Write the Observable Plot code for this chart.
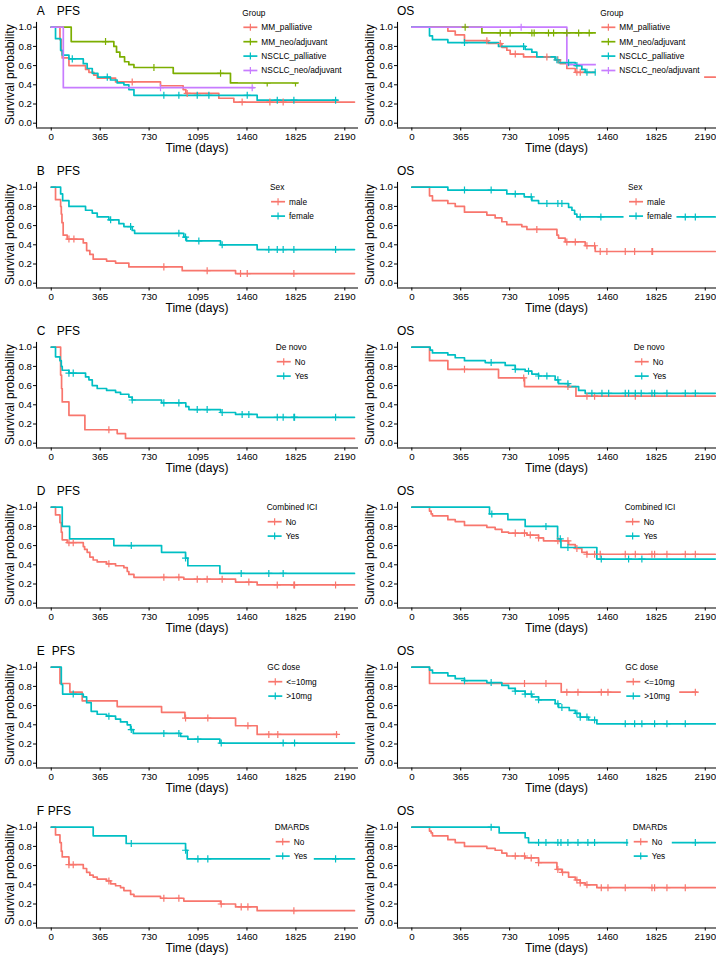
<!DOCTYPE html>
<html><head><meta charset="utf-8">
<script src="https://cdn.jsdelivr.net/npm/d3@7"></script>
<script src="https://cdn.jsdelivr.net/npm/@observablehq/plot@0.6"></script>
<style>
body{margin:0;background:#fff;}
#root{position:relative;width:716px;height:959px;overflow:hidden;background:#fff;}
#root svg{position:absolute;}
</style>
</head><body><div id="root"></div>
<script>
const FONT = '"Liberation Sans", Arial, Helvetica, sans-serif';
const xTicks = [0, 365, 730, 1095, 1460, 1825, 2190];
const yTicks = [0, 0.2, 0.4, 0.6, 0.8, 1.0];
const colors4 = ["#F8766D", "#7CAE00", "#00BFC4", "#C77CFF"];
const colors2 = ["#F8766D", "#00BFC4"];
const groupLabels = ["MM_palliative", "MM_neo/adjuvant", "NSCLC_palliative", "NSCLC_neo/adjuvant"];
const sexLabels = ["male", "female"];
const noYesLabels = ["No", "Yes"];
const gcLabels = ["<=10mg", ">10mg"];

// ---- A: Group ----
const aPfsMMpalT = [0, 65, 75, 82, 132, 256, 281, 318, 343, 480, 815, 984, 1004, 1250, 1362, 2262];
const aPfsMMpalS = [1, .87, .75, .68, .60, .56, .53, .50, .47, .43, .39, .35, .31, .26, .22, .22];
const aPfsMMpalC = [604, 1014, 1424, 1631, 1730];
const aPfsMMneoT = [0, 149, 467, 487, 512, 547, 579, 617, 910, 1337, 1835];
const aPfsMMneoS = [1, .85, .80, .74, .69, .64, .61, .58, .52, .42, .42];
const aPfsMMneoC = [405, 766, 1263, 1611, 1822];
const aPfsNSpalT = [0, 32, 70, 82, 132, 239, 268, 306, 348, 442, 492, 542, 579, 617, 1536, 2133];
const aPfsNSpalS = [1, .88, .76, .71, .67, .62, .57, .52, .48, .45, .42, .40, .35, .29, .24, .24];
const aPfsNSpalC = [157, 418, 840, 952, 1089, 1176, 1462, 1686, 1810, 2121];
const aPfsNSneoT = [0, 90, 1512];
const aPfsNSneoS = [1, .37, .37];
const aPfsNSneoC = [815, 1499];

const aOsMMpalT = [0, 269, 324, 393, 572, 672, 709, 734, 834, 1070, 1108, 1157, 1220, 1600, 2265];
const aOsMMpalS = [1, .96, .92, .86, .83, .79, .76, .72, .69, .66, .62, .57, .53, .48, .48];
const aOsMMpalC = [560, 660, 772, 1008, 1090, 1232, 1257];
const aOsMMneoT = [0, 523, 1374];
const aOsMMneoS = [1, .94, .94];
const aOsMMneoC = [398, 660, 734, 896, 913, 1020, 1058, 1157, 1245, 1324];
const aOsNSpalT = [0, 132, 154, 269, 647, 846, 896, 933, 1070, 1095, 1220, 1269, 1294, 1374];
const aOsNSpalS = [1, .91, .87, .84, .80, .77, .74, .69, .66, .63, .60, .56, .53, .53];
const aOsNSpalC = [393, 834, 1083, 1170, 1232, 1307, 1369];
const aOsNSneoT = [0, 1157, 1374];
const aOsNSneoS = [1, .61, .61];
const aOsNSneoC = [816];

// ---- B: Sex ----
const bPfsMaleT = [0, 32, 70, 75, 80, 89, 119, 239, 264, 288, 313, 413, 480, 579, 977, 1375, 2262];
const bPfsMaleS = [1, .87, .80, .72, .63, .50, .46, .42, .34, .30, .25, .23, .21, .17, .13, .10, .10];
const bPfsMaleC = [132, 169, 840, 1163, 1412, 1462, 1810];
const bPfsFemaleT = [0, 70, 85, 132, 256, 306, 343, 430, 505, 542, 604, 622, 989, 1009, 1263, 1536, 2262];
const bPfsFemaleS = [1, .93, .86, .80, .76, .73, .69, .66, .62, .59, .55, .52, .48, .44, .40, .35, .35];
const bPfsFemaleC = [443, 592, 952, 1002, 1101, 1275, 1623, 1686, 1730, 1810, 2121];

const bOsMaleT = [0, 132, 154, 269, 324, 393, 560, 622, 672, 709, 821, 859, 1083, 1095, 1145, 1294, 1369, 2265];
const bOsMaleS = [1, .91, .86, .83, .80, .74, .71, .68, .64, .61, .59, .56, .50, .47, .43, .39, .33, .33];
const bOsMaleC = [933, 1157, 1220, 1307, 1364, 1406, 1456, 1593, 1663, 1792, 1797];
const bOsFemaleT = [0, 269, 709, 839, 896, 946, 1170, 1195, 1215, 1232, 2265];
const bOsFemaleS = [1, .97, .93, .90, .86, .83, .79, .76, .72, .69, .69];
const bOsFemaleC = [393, 592, 772, 891, 1008, 1090, 1120, 1257, 1411, 2041, 2116];

// ---- C: De novo ----
const cPfsNoT = [0, 70, 77, 82, 132, 251, 492, 554, 2262];
const cPfsNoS = [1, .71, .57, .43, .29, .14, .10, .05, .05];
const cPfsNoC = [430];
const cPfsYesT = [0, 32, 65, 75, 82, 132, 256, 281, 306, 343, 413, 480, 517, 579, 604, 823, 1004, 1027, 1263, 1375, 1536, 2262];
const cPfsYesS = [1, .90, .86, .80, .76, .73, .69, .66, .60, .57, .55, .53, .51, .48, .45, .42, .38, .35, .32, .30, .27, .27];
const cPfsYesC = [132, 164, 604, 840, 952, 1089, 1163, 1275, 1424, 1474, 1686, 1730, 1810, 1815, 2121];

const cOsNoT = [0, 132, 269, 647, 841, 1225, 2265];
const cOsNoS = [1, .86, .77, .68, .59, .49, .49];
const cOsNoC = [393, 835, 1165, 1307, 1364, 1668];
const cOsYesT = [0, 137, 154, 269, 324, 393, 548, 697, 772, 846, 896, 946, 1070, 1095, 1170, 1245, 1294, 2265];
const cOsYesS = [1, .97, .94, .92, .89, .86, .84, .81, .77, .75, .72, .70, .66, .62, .59, .55, .52, .52];
const cOsYesC = [592, 772, 871, 946, 1008, 1090, 1165, 1344, 1419, 1469, 1593, 1618, 1668, 1712, 1792, 1812, 1904, 2041, 2116];

// ---- D: Combined ICI ----
const dPfsNoT = [0, 32, 65, 75, 82, 119, 239, 249, 268, 288, 313, 343, 413, 480, 542, 567, 579, 617, 989, 1375, 1536, 2262];
const dPfsNoS = [1, .92, .84, .74, .66, .63, .59, .56, .53, .48, .45, .43, .41, .39, .37, .33, .30, .27, .25, .22, .19, .19];
const dPfsNoC = [132, 164, 430, 840, 952, 1089, 1163, 1275, 1474, 1686, 1810, 1815, 2121];
const dPfsYesT = [0, 82, 137, 467, 823, 1002, 1019, 1258, 2262];
const dPfsYesS = [1, .80, .67, .60, .53, .47, .39, .31, .31];
const dPfsYesC = [597, 1002, 1417, 1623, 1730];

const dOsNoT = [0, 132, 144, 154, 269, 324, 393, 560, 622, 672, 722, 859, 946, 983, 1170, 1220, 1269, 1307, 2265];
const dOsNoS = [1, .96, .93, .91, .87, .85, .81, .79, .77, .74, .73, .71, .68, .65, .61, .57, .53, .51, .51];
const dOsNoC = [772, 841, 884, 946, 1090, 1165, 1232, 1307, 1364, 1406, 1593, 1668, 1792, 1812, 1904, 2041, 2116];
const dOsYesT = [0, 580, 717, 846, 1088, 1113, 1381, 2265];
const dOsYesS = [1, .93, .87, .80, .67, .58, .46, .46];
const dOsYesC = [597, 1001, 1108, 1165, 1414, 1618, 1717];

// ---- E: GC dose ----
const ePfsLowT = [0, 65, 139, 231, 492, 823, 997, 1375, 1536, 2133];
const ePfsLowS = [1, .83, .74, .65, .59, .53, .47, .39, .30, .30];
const ePfsLowC = [1002, 1168, 1467, 1623, 1690, 2128];
const ePfsHighT = [0, 75, 85, 239, 264, 298, 343, 413, 480, 517, 567, 592, 612, 965, 1019, 1258, 2262];
const ePfsHighS = [1, .82, .72, .69, .63, .54, .51, .49, .46, .43, .40, .35, .31, .28, .25, .21, .21];
const ePfsHighC = [164, 430, 597, 840, 952, 1094, 1268, 1730, 1815];

const eOsLowT = [0, 132, 1115, 2128];
const eOsLowS = [1, .83, .74, .74];
const eOsLowC = [841, 1001, 1157, 1240, 1414, 1464, 2116];
const eOsHighT = [0, 132, 154, 269, 324, 393, 560, 672, 722, 772, 846, 896, 946, 1070, 1095, 1175, 1220, 1257, 1319, 1381, 2265];
const eOsHighS = [1, .97, .94, .91, .88, .86, .84, .81, .78, .75, .72, .69, .66, .62, .58, .55, .52, .48, .45, .41, .41];
const eOsHighC = [393, 592, 772, 846, 891, 946, 1090, 1120, 1232, 1257, 1307, 1364, 1593, 1663, 1717, 1812, 1904, 2041];

// ---- F: DMARDs ----
const fPfsNoT = [0, 32, 65, 75, 82, 132, 239, 264, 288, 313, 343, 413, 443, 480, 517, 542, 592, 617, 815, 989, 1263, 1375, 1536, 2262];
const fPfsNoS = [1, .92, .84, .75, .69, .61, .57, .53, .50, .48, .46, .44, .41, .39, .37, .34, .30, .28, .26, .23, .20, .17, .13, .13];
const fPfsNoC = [132, 164, 430, 840, 952, 1268, 1417, 1467, 1810];
const fPfsYesT = [0, 313, 559, 1002, 1014, 2262];
const fPfsYesS = [1, .91, .83, .76, .67, .67];
const fPfsYesC = [597, 1002, 1094, 1168, 2121];

const fOsNoT = [0, 132, 144, 154, 269, 324, 393, 560, 622, 672, 709, 846, 946, 1083, 1120, 1170, 1220, 1257, 1294, 1381, 2265];
const fOsNoS = [1, .96, .94, .91, .87, .84, .80, .78, .76, .73, .70, .68, .63, .56, .53, .48, .45, .42, .40, .37, .37];
const fOsNoC = [772, 841, 891, 946, 1090, 1125, 1232, 1257, 1307, 1414, 1464, 1593, 1792, 1812, 1904, 2041];
const fOsYesT = [0, 652, 846, 871, 2265];
const fOsYesS = [1, .94, .89, .84, .84];
const fOsYesC = [592, 946, 1001, 1090, 1113, 1165, 1240, 1314, 1364, 1605, 2116];

const panels = [
  {row:0, col:0, letter:"A", kx:56.7, kind:"PFS", lt:"Group", labels:groupLabels, colors:colors4,
   curves:[[aPfsMMpalT,aPfsMMpalS,aPfsMMpalC],[aPfsMMneoT,aPfsMMneoS,aPfsMMneoC],[aPfsNSpalT,aPfsNSpalS,aPfsNSpalC],[aPfsNSneoT,aPfsNSneoS,aPfsNSneoC]]},
  {row:0, col:1, kind:"OS", lt:"Group", labels:groupLabels, colors:colors4,
   curves:[[aOsMMpalT,aOsMMpalS,aOsMMpalC],[aOsMMneoT,aOsMMneoS,aOsMMneoC],[aOsNSpalT,aOsNSpalS,aOsNSpalC],[aOsNSneoT,aOsNSneoS,aOsNSneoC]]},
  {row:1, col:0, letter:"B", kx:56.7, kind:"PFS", lt:"Sex", labels:sexLabels, colors:colors2,
   curves:[[bPfsMaleT,bPfsMaleS,bPfsMaleC],[bPfsFemaleT,bPfsFemaleS,bPfsFemaleC]]},
  {row:1, col:1, kind:"OS", lt:"Sex", labels:sexLabels, colors:colors2,
   curves:[[bOsMaleT,bOsMaleS,bOsMaleC],[bOsFemaleT,bOsFemaleS,bOsFemaleC]]},
  {row:2, col:0, letter:"C", kx:56.7, kind:"PFS", lt:"De novo", labels:noYesLabels, colors:colors2,
   curves:[[cPfsNoT,cPfsNoS,cPfsNoC],[cPfsYesT,cPfsYesS,cPfsYesC]]},
  {row:2, col:1, kind:"OS", lt:"De novo", labels:noYesLabels, colors:colors2,
   curves:[[cOsNoT,cOsNoS,cOsNoC],[cOsYesT,cOsYesS,cOsYesC]]},
  {row:3, col:0, letter:"D", kx:56.7, kind:"PFS", lt:"Combined ICI", labels:noYesLabels, colors:colors2,
   curves:[[dPfsNoT,dPfsNoS,dPfsNoC],[dPfsYesT,dPfsYesS,dPfsYesC]]},
  {row:3, col:1, kind:"OS", lt:"Combined ICI", labels:noYesLabels, colors:colors2,
   curves:[[dOsNoT,dOsNoS,dOsNoC],[dOsYesT,dOsYesS,dOsYesC]]},
  {row:4, col:0, letter:"E", kx:51.7, kind:"PFS", lt:"GC dose", labels:gcLabels, colors:colors2,
   curves:[[ePfsLowT,ePfsLowS,ePfsLowC],[ePfsHighT,ePfsHighS,ePfsHighC]]},
  {row:4, col:1, kind:"OS", lt:"GC dose", labels:gcLabels, colors:colors2,
   curves:[[eOsLowT,eOsLowS,eOsLowC],[eOsHighT,eOsHighS,eOsHighC]]},
  {row:5, col:0, letter:"F", kx:47.7, kind:"PFS", lt:"DMARDs", labels:noYesLabels, colors:colors2,
   curves:[[fPfsNoT,fPfsNoS,fPfsNoC],[fPfsYesT,fPfsYesS,fPfsYesC]]},
  {row:5, col:1, kind:"OS", lt:"DMARDs", labels:noYesLabels, colors:colors2,
   curves:[[fOsNoT,fOsNoS,fOsNoC],[fOsYesT,fOsYesS,fOsYesC]]}
];

function survAt(T, S, t) {
  let s = S[0];
  for (let i = 0; i < T.length; i++) { if (T[i] <= t) s = S[i]; else break; }
  return s;
}

const canvas = document.createElement("canvas");
const ctx = canvas.getContext("2d");

function drawLegend(svg, title, labels, colors) {
  const fs = 8.3;
  ctx.font = fs + 'px "Liberation Sans", Arial, sans-serif';
  const tw = ctx.measureText(title).width;
  const lw = Math.max(...labels.map(l => ctx.measureText(l).width));
  const keyOff = 1, keyW = 14, gap = 4;
  const cw = Math.max(tw, keyOff + keyW + gap + lw);
  const x0 = 292 - cw / 2;
  const n = labels.length;
  const span = 4 + 14.2 + 14.4 * (n - 1) + 7.2;
  const yt = 43.4 - span / 2 + 4;
  const g = svg.append("g").attr("font-family", FONT).attr("font-size", fs).attr("fill", "#000").attr("text-anchor", "start");
  g.append("rect").attr("x", x0 - 4.5).attr("y", yt - 4 - 4.5).attr("width", cw + 9).attr("height", span + 9).attr("fill", "#fff");
  g.append("text").attr("x", x0).attr("y", yt).attr("dy", "0.35em").text(title);
  labels.forEach((l, i) => {
    const y = yt + 14.2 + 14.4 * i;
    const kx = x0 + keyOff;
    g.append("line").attr("x1", kx).attr("x2", kx + keyW).attr("y1", y).attr("y2", y).attr("stroke", colors[i]).attr("stroke-width", 1.7);
    g.append("line").attr("x1", kx + keyW / 2).attr("x2", kx + keyW / 2).attr("y1", y - 3.5).attr("y2", y + 3.5).attr("stroke", colors[i]).attr("stroke-width", 1.2);
    g.append("text").attr("x", kx + keyW + gap).attr("y", y).attr("dy", "0.35em").text(l);
  });
}

const root = document.getElementById("root");

panels.forEach(p => {
  const ml = p.col ? 39 : 36;
  const xd = p.col ? [-107, 2274] : [-110, 2292];
  const marks = [
    Plot.ruleY([-0.05], {stroke: "#000", strokeWidth: 1.1}),
    Plot.ruleX([xd[0]], {stroke: "#000", strokeWidth: 1.1})
  ];
  p.curves.forEach(([T, S], i) => {
    marks.push(Plot.line(T.map((t, j) => ({t, s: S[j]})), {x: "t", y: "s", curve: "step-after", stroke: p.colors[i], strokeWidth: 1.7}));
  });
  p.curves.forEach(([T, S, C], i) => {
    marks.push(Plot.dot(C.map(t => ({t, s: survAt(T, S, t)})), {x: "t", y: "s", symbol: "plus", r: 2.4, stroke: p.colors[i], strokeWidth: 1.2}));
  });
  marks.push(Plot.axisX({ticks: xTicks, tickSize: 3, tickPadding: 2.5, label: null, tickFormat: d => String(d)}));
  marks.push(Plot.axisY({ticks: yTicks, tickSize: 3, tickPadding: 1.5, label: null, tickFormat: d3.format(".1f")}));
  const svgEl = Plot.plot({
    width: 358, height: 160,
    marginLeft: ml, marginRight: 0, marginTop: 21.9, marginBottom: 32.5,
    x: {domain: xd},
    y: {domain: [-0.05, 1.05]},
    style: {fontFamily: FONT, fontSize: "9.7px", color: "#000", background: "transparent", overflow: "visible"},
    marks
  });
  svgEl.style.left = (p.col * 358) + "px";
  svgEl.style.top = (p.row * 160) + "px";
  root.appendChild(svgEl);
  const svg = d3.select(svgEl);
  const tg = svg.append("g").attr("font-family", FONT).attr("font-size", 12).attr("fill", "#000").attr("text-anchor", "start");
  if (p.letter) {
    tg.append("text").attr("x", 36.7).attr("y", 14.5).text(p.letter);
    tg.append("text").attr("x", p.kx).attr("y", 14.5).text(p.kind);
  } else {
    tg.append("text").attr("x", 39).attr("y", 14.5).text(p.kind);
  }
  tg.append("text").attr("x", (ml + 358) / 2).attr("y", 151.5).attr("text-anchor", "middle").text("Time (days)");
  tg.append("text").attr("transform", `translate(${p.col ? 12 : 10},74.7) rotate(-90)`).attr("text-anchor", "middle").attr("dy", "0.35em").text("Survival probability");
  drawLegend(svg, p.lt, p.labels, p.colors);
});
</script>
</body></html>
